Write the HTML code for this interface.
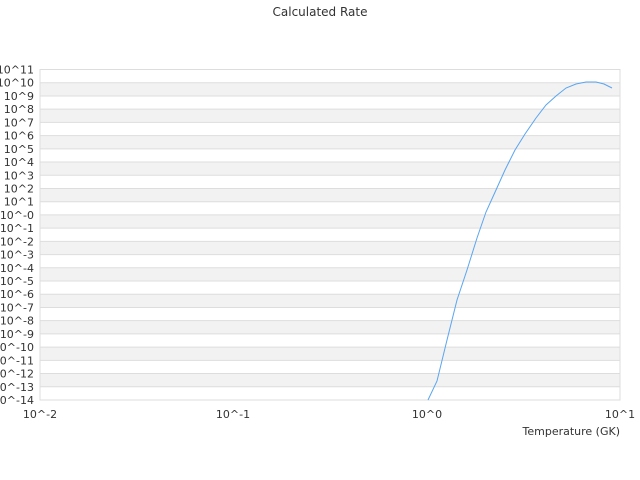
<!DOCTYPE html>
<html><head><meta charset="utf-8"><style>
body{margin:0;background:#fff}
svg{display:block;font-family:"DejaVu Sans","Liberation Sans",sans-serif}
</style></head><body>
<svg width="640" height="480" xmlns="http://www.w3.org/2000/svg">
<rect width="640" height="480" fill="#fff"/>
<text x="320" y="16" font-size="12" text-anchor="middle" fill="#333">Calculated Rate</text>
<g fill="#f2f2f2">
<rect x="40" y="82.72" width="580" height="13.22"/>
<rect x="40" y="109.16" width="580" height="13.22"/>
<rect x="40" y="135.6" width="580" height="13.22"/>
<rect x="40" y="162.04" width="580" height="13.22"/>
<rect x="40" y="188.48" width="580" height="13.22"/>
<rect x="40" y="214.92" width="580" height="13.22"/>
<rect x="40" y="241.36" width="580" height="13.22"/>
<rect x="40" y="267.8" width="580" height="13.22"/>
<rect x="40" y="294.24" width="580" height="13.22"/>
<rect x="40" y="320.68" width="580" height="13.22"/>
<rect x="40" y="347.12" width="580" height="13.22"/>
<rect x="40" y="373.56" width="580" height="13.22"/>
</g>
<g stroke="#ddd" stroke-width="1">
<line x1="40" x2="620" y1="69.5" y2="69.5"/>
<line x1="40" x2="620" y1="82.72" y2="82.72"/>
<line x1="40" x2="620" y1="95.94" y2="95.94"/>
<line x1="40" x2="620" y1="109.16" y2="109.16"/>
<line x1="40" x2="620" y1="122.38" y2="122.38"/>
<line x1="40" x2="620" y1="135.6" y2="135.6"/>
<line x1="40" x2="620" y1="148.82" y2="148.82"/>
<line x1="40" x2="620" y1="162.04" y2="162.04"/>
<line x1="40" x2="620" y1="175.26" y2="175.26"/>
<line x1="40" x2="620" y1="188.48" y2="188.48"/>
<line x1="40" x2="620" y1="201.7" y2="201.7"/>
<line x1="40" x2="620" y1="214.92" y2="214.92"/>
<line x1="40" x2="620" y1="228.14" y2="228.14"/>
<line x1="40" x2="620" y1="241.36" y2="241.36"/>
<line x1="40" x2="620" y1="254.58" y2="254.58"/>
<line x1="40" x2="620" y1="267.8" y2="267.8"/>
<line x1="40" x2="620" y1="281.02" y2="281.02"/>
<line x1="40" x2="620" y1="294.24" y2="294.24"/>
<line x1="40" x2="620" y1="307.46" y2="307.46"/>
<line x1="40" x2="620" y1="320.68" y2="320.68"/>
<line x1="40" x2="620" y1="333.9" y2="333.9"/>
<line x1="40" x2="620" y1="347.12" y2="347.12"/>
<line x1="40" x2="620" y1="360.34" y2="360.34"/>
<line x1="40" x2="620" y1="373.56" y2="373.56"/>
<line x1="40" x2="620" y1="386.78" y2="386.78"/>
<line x1="40" x2="620" y1="400" y2="400"/>
</g>
<g font-size="11" fill="#333" text-anchor="end">
<text x="34" y="73.5">10^11</text>
<text x="34" y="86.7">10^10</text>
<text x="34" y="99.9">10^9</text>
<text x="34" y="113.2">10^8</text>
<text x="34" y="126.4">10^7</text>
<text x="34" y="139.6">10^6</text>
<text x="34" y="152.8">10^5</text>
<text x="34" y="166">10^4</text>
<text x="34" y="179.3">10^3</text>
<text x="34" y="192.5">10^2</text>
<text x="34" y="205.7">10^1</text>
<text x="34" y="218.9">10^-0</text>
<text x="34" y="232.1">10^-1</text>
<text x="34" y="245.4">10^-2</text>
<text x="34" y="258.6">10^-3</text>
<text x="34" y="271.8">10^-4</text>
<text x="34" y="285">10^-5</text>
<text x="34" y="298.2">10^-6</text>
<text x="34" y="311.5">10^-7</text>
<text x="34" y="324.7">10^-8</text>
<text x="34" y="337.9">10^-9</text>
<text x="34" y="351.1">10^-10</text>
<text x="34" y="364.3">10^-11</text>
<text x="34" y="377.6">10^-12</text>
<text x="34" y="390.8">10^-13</text>
<text x="34" y="404">10^-14</text>
</g>
<rect x="40" y="69.5" width="580" height="330.5" fill="none" stroke="#ddd"/>
<polyline fill="none" stroke="#5aa5f0" stroke-width="1" points="428,400 437,381 447,340 457,300 467,270 477,238 486,212 496,190 505,170 515,150 525,134 536,118 546,105 556,96 566,88 576,84 586,82 596,82 604,84 612,88"/>
<g font-size="11" fill="#333" text-anchor="middle">
<text x="40" y="418">10^-2</text>
<text x="233" y="418">10^-1</text>
<text x="427" y="418">10^0</text>
<text x="620" y="418">10^1</text>
</g>
<text x="620" y="435" font-size="11" text-anchor="end" fill="#333">Temperature (GK)</text>
</svg>
</body></html>
